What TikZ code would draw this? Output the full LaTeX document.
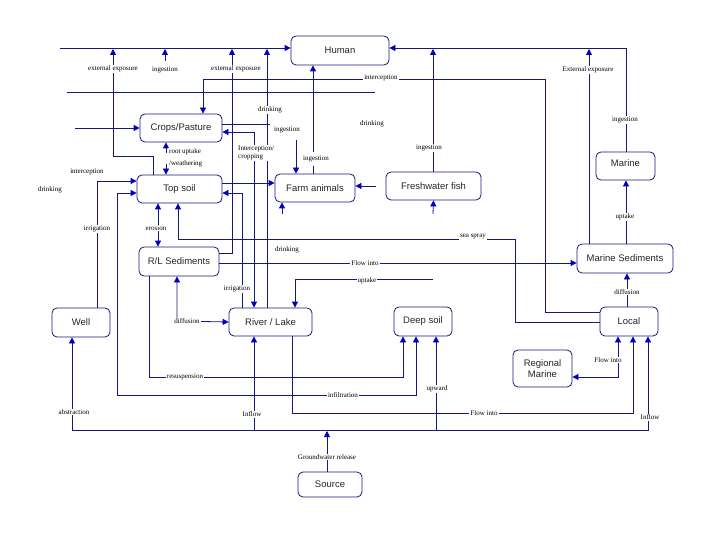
\documentclass[tikz,border=0pt]{standalone}
\usepackage{fontspec}
\setmainfont{Liberation Serif}
\newfontfamily\boxfont{Liberation Sans}
\usetikzlibrary{arrows.meta}
\definecolor{navy}{RGB}{24,24,120}
\definecolor{tipblue}{RGB}{0,0,190}
\tikzset{
 box/.style={draw=navy, line width=0.8pt, rounded corners=5pt, font=\boxfont\fontsize{9.5}{11}\selectfont, inner sep=1pt, align=center, text=black!85},
 conn/.style={draw=navy, line width=0.8pt},
 arr/.style={conn, -{Triangle[length=6pt,width=6pt,color=tipblue]}},
 arrr/.style={conn, {Triangle[length=6pt,width=6pt,color=tipblue]}-{Triangle[length=6pt,width=6pt,color=tipblue]}},
 lab/.style={font=\fontsize{7}{8}\selectfont, fill=white, inner sep=1pt, text=black},
}
\begin{document}
\begin{tikzpicture}[x=1pt,y=-1pt]
\useasboundingbox[fill=white] (0,0) rectangle (720,540);
% boxes
\node[box, minimum width=98pt, minimum height=29pt] (human) at (340,50.5) {Human};
\node[box, minimum width=82pt, minimum height=28pt] (crops) at (181,128) {Crops/Pasture};
\node[box, minimum width=85pt, minimum height=28pt] (topsoil) at (179.5,189) {Top soil};
\node[box, minimum width=80pt, minimum height=28pt] (farm) at (315,188) {Farm animals};
\node[box, minimum width=95pt, minimum height=28pt] (fish) at (433.5,186) {Freshwater fish};
\node[box, minimum width=59pt, minimum height=28pt, text depth=6pt] (marinefish) at (625.5,166) {Marine};
\node[box, minimum width=96pt, minimum height=29pt] (marsed) at (625,258.5) {Marine Sediments};
\node[box, minimum width=80pt, minimum height=29pt] (rlsed) at (179,261.5) {R/L Sediments};
\node[box, minimum width=58pt, minimum height=29pt] (well) at (81,322.5) {Well};
\node[box, minimum width=83pt, minimum height=28pt] (river) at (270.5,322) {River / Lake};
\node[box, minimum width=58pt, minimum height=29pt] (deep) at (423,321.5) {Deep soil};
\node[box, minimum width=58pt, minimum height=29pt] (local) at (629,321.5) {Local};
\node[box, minimum width=59pt, minimum height=37pt] (regional) at (542.5,368.5) {Regional\\Marine};
\node[box, minimum width=64pt, minimum height=25pt] (source) at (330,484.5) {Source};
% free ends
\coordinate (tl) at (60,48);
\coordinate (ingA) at (165,61);
\coordinate (ha) at (67,92);
\coordinate (hb) at (375,92);
\coordinate (cl) at (75,128);
\coordinate (sf) at (433,214);
\coordinate (sa) at (282,214);
\coordinate (ru1) at (166,153);
\coordinate (ru2) at (166,164);
\coordinate (upe) at (433,279);
\coordinate (bw) at (72,430);
\coordinate (bl) at (648,430);
\coordinate (bri) at (254,430);
\coordinate (bup) at (436,430);
\coordinate (bs) at (327,431);
% connectors
\draw[arr] (tl) -- (human.west |- 0,48);
\draw[arr] (topsoil.north -| 153,0) -- (153,156) -- (113,156) -- (113,49);
\draw[arr] (ingA) -- (165,49);
\draw[arr] (rlsed.east |- 0,253) -- (232,253) -- (232,49);
\draw[arr] (river.north -| 267,0) -- (267,49);
\draw[arrr] (crops.east |- 0,132) -- (254,132) -- (river.north -| 254,0);
\draw[arr] (river.north -| 242,0) -- (242,193) -- (topsoil.east |- 0,193);
\draw[arr] (crops.east |- 0,124) -- (296,124) -- (farm.north -| 296,0);
\draw[arr] (farm.north -| 313,0) -- (human.south -| 313,0);
\draw[arr] (fish.north -| 433,0) -- (433,49);
\draw[arr] (marinefish.north -| 626,0) -- (626,48) -- (human.east |- 0,48);
\draw[arr] (marsed.north -| 589,0) -- (589,49);
\draw[arr] (local.west |- 0,312) -- (545,312) -- (545,79) -- (203,79) -- (crops.north -| 203,0);
\draw[conn] (ha) -- (hb);
\draw[arr] (cl) -- (crops.west);
\draw[arr] (topsoil.east |- 0,183) -- (farm.west |- 0,183);
\draw[arr, shorten <=10pt] (fish.west) -- (farm.east |- fish.west);
\draw[arr] (sf) -- (fish.south);
\draw[arr] (sa) -- (farm.south -| sa);
\draw[arr] (ru1) -- (crops.south -| ru1);
\draw[arr] (ru2) -- (topsoil.north -| ru2);
\draw[arrr] (topsoil.south -| 158,0) -- (rlsed.north -| 158,0);
\draw[arr] (well.north -| 97,0) -- (97,181) -- (topsoil.west |- 0,181);
\draw[arrr] (topsoil.west |- 0,193) -- (117,193) -- (117,395) -- (416,395) -- (deep.south -| 416,0);
\draw[arr] (rlsed.south -| 149,0) -- (149,377) -- (403,377) -- (deep.south -| 403,0);
\draw[arr] (local.west |- 0,322) -- (515,322) -- (515,239) -- (178,239) -- (topsoil.south -| 178,0);
\draw[arr] (rlsed.east |- 0,263) -- (marsed.west |- 0,263);
\draw[arr] (upe) -- (295,279) -- (river.north -| 295,0);
\draw[arrr] (rlsed.south -| 177,0) -- (177,321) -- (river.west);
\draw[arr] (bup) -- (deep.south -| bup);
\draw[arr] (bw) -- (well.south -| bw);
\draw[arr] (bw) -- (bl) -- (local.south -| bl);
\draw[arr] (bri) -- (river.south -| bri);
\draw[arr] (source.north -| bs) -- (bs);
\draw[arr] (river.south -| 292,0) -- (292,413) -- (633,413) -- (local.south -| 633,0);
\draw[arrr] (local.south -| 618,0) -- (618,377) -- (regional.east |- 0,377);
\draw[arr] (local.north -| 627,0) -- (marsed.south -| 627,0);
\draw[arr] (marsed.north -| 626,0) -- (marinefish.south -| 626,0);
% labels
\node[lab] (t1) at (113,69) {external exposure};
\node[lab] (t2) at (165,70) {ingestion};
\node[lab] (t3) at (236,69) {external exposure};
\node[lab] (t4) at (270,110) {drinking};
\node[lab] (t5) at (381,78) {interception};
\node[lab] (t6) at (372,124) {drinking};
\node[lab, minimum width=34pt, minimum height=20pt] (t7) at (287,130) {ingestion};
\node[lab, minimum height=14pt] (t8) at (316,159) {ingestion};
\node[lab] (t9) at (429,148) {ingestion};
\node[lab] (t10) at (588,70) {External exposure};
\node[lab] (t11) at (625,120) {ingestion};
\node[lab, anchor=west, align=left] (t12) at (237,153) {Interception/\\cropping};
\node[lab, anchor=west] (t13) at (168,152) {root uptake};
\node[lab, anchor=west] (t14) at (168,164) {/weathering};
\node[lab] (t15) at (87,172) {interception};
\node[lab] (t16) at (50,190) {drinking};
\node[lab] (t17) at (97,229) {irrigation};
\node[lab] (t18) at (156,228) {erosion};
\node[lab] (t19) at (237,289) {irrigation};
\node[lab] (t20) at (287,250) {drinking};
\node[lab] (t21) at (365,263) {Flow into};
\node[lab] (t22) at (367,281) {uptake};
\node[lab] (t23) at (473,237) {sea spray};
\node[lab] (t24) at (187,321) {diffusion};
\node[lab] (t25) at (627,292) {diffusion};
\node[lab] (t26) at (625,217) {uptake};
\node[lab] (t27) at (185,377) {resuspension};
\node[lab] (t28) at (343,395) {infiltration};
\node[lab] (t29) at (437,389) {upward};
\node[lab] (t30) at (74,412) {abstraction};
\node[lab] (t31) at (252,414) {Inflow};
\node[lab] (t32) at (484,413) {Flow into};
\node[lab] (t33) at (608,360) {Flow into};
\node[lab] (t34) at (650,417) {Inflow};
\node[lab] (t35) at (327,457) {Groundwater release};
\end{tikzpicture}
\end{document}
